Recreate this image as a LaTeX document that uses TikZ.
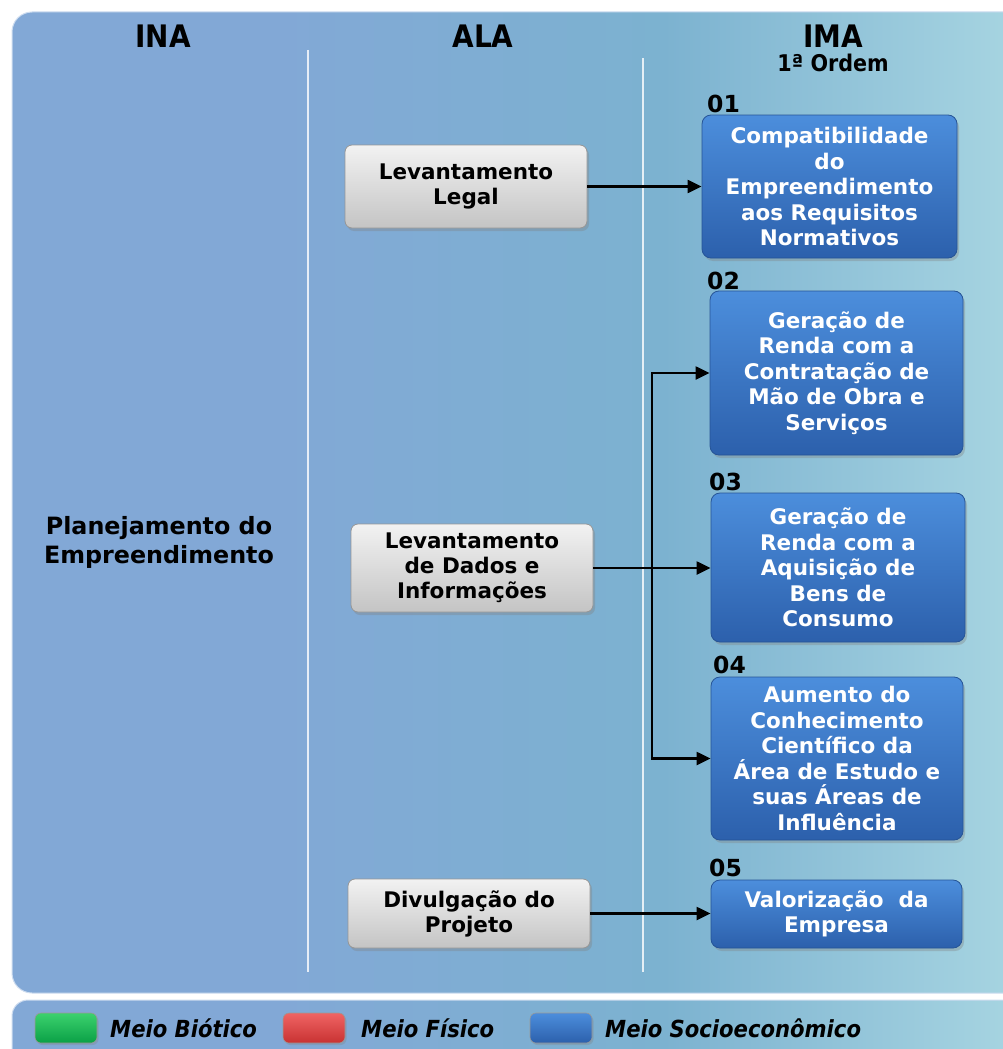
\documentclass[tikz,border=0pt]{standalone}
\usepackage{fontspec}
\setmainfont{DejaVu Sans}
\newfontfamily\condfont{DejaVu Sans Condensed}
\usetikzlibrary{arrows.meta,shadows}

\definecolor{panelL}{RGB}{130,168,214}
\definecolor{panelM}{RGB}{124,178,208}
\definecolor{panelR}{RGB}{166,212,225}
\definecolor{blueT}{RGB}{76,142,220}
\definecolor{blueB}{RGB}{44,96,172}
\definecolor{blueD}{RGB}{38,84,150}
\definecolor{grayT}{RGB}{242,242,242}
\definecolor{grayB}{RGB}{196,196,196}
\definecolor{grayD}{RGB}{150,150,150}
\definecolor{greenT}{RGB}{60,210,110}
\definecolor{greenB}{RGB}{10,160,70}
\definecolor{redT}{RGB}{240,100,100}
\definecolor{redB}{RGB}{200,50,50}

% left-to-right background: flat blue under INA, fading to pale teal on the right
\pgfdeclarehorizontalshading{panelshade}{100bp}{%
  color(0bp)=(panelL); color(38bp)=(panelL); color(57bp)=(panelM); color(74bp)=(panelR); color(100bp)=(panelR)}

\tikzset{
  x=1pt, y=-1pt,
  graybox/.style={draw=grayD, line width=0.8pt, rounded corners=7pt,
    top color=grayT, bottom color=grayB, align=center, text=black,
    font=\fontsize{21.5}{25}\selectfont\bfseries, inner sep=0pt,
    drop shadow={opacity=0.35, shadow xshift=2pt, shadow yshift=-3pt}},
  bluebox/.style={draw=blueD, line width=0.8pt, rounded corners=9pt,
    top color=blueT, bottom color=blueB, align=center, text=white,
    font=\fontsize{21.5}{25.5}\selectfont\bfseries, inner sep=0pt,
    drop shadow={opacity=0.35, shadow xshift=2pt, shadow yshift=-3pt}},
  numlabel/.style={font=\fontsize{23.5}{23.5}\selectfont\bfseries, anchor=base west, inner sep=0pt},
  heading/.style={font=\condfont\fontsize{31}{31}\selectfont\bfseries, inner sep=0pt},
  divider/.style={draw=white, line width=1.2pt, opacity=0.8},
  arr/.style={line width=2.2pt, -{Triangle[length=14pt,width=13pt]}},
  swatch/.style={rounded corners=6pt, draw=black!40, line width=0.6pt,
    minimum width=62, minimum height=30, inner sep=0pt,
    drop shadow={opacity=0.3, shadow xshift=1.5pt, shadow yshift=-2pt}},
  legtext/.style={font=\condfont\fontsize{23.5}{23.5}\selectfont\bfseries\itshape, anchor=west, inner sep=0pt}
}

\begin{document}
\begin{tikzpicture}
\useasboundingbox (0,0) rectangle (1003,1049);

% main panel and legend bar
\shade[shading=panelshade, draw=white!60!panelL, line width=1pt, rounded corners=20pt]
  (12,12) rectangle (1030,993);
\shade[shading=panelshade, draw=white!60!panelL, line width=1pt, rounded corners=16pt]
  (12,1000) rectangle (1030,1070);

% column dividers
\draw[divider] (308,50) -- (308,972);
\draw[divider] (643,58) -- (643,972);

% column headings
\node[heading] (hina) at (163,36) {INA};
\node[heading] (hala) at (483,36) {ALA};
\node[heading] (hima) at (833,36) {IMA};
\node[font=\condfont\fontsize{23}{23}\selectfont\bfseries, inner sep=0pt] (hord) at (833,63) {1ª Ordem};

% INA column
\node[font=\fontsize{23.8}{29}\selectfont\bfseries, align=center] (plan) at (159,542)
  {Planejamento do\\Empreendimento};

% ALA column
\node[graybox, minimum width=242, minimum height=83] (ll) at (466,186.5) {Levantamento\\Legal};
\node[graybox, minimum width=242, minimum height=88] (ldi) at (472,568) {Levantamento\\de Dados e\\Informações};
\node[graybox, minimum width=242, minimum height=69] (div) at (469,913.5) {Divulgação do\\Projeto};

% IMA column
\node[bluebox, minimum width=255, minimum height=143] (b1) at (829.5,186.5)
  {Compatibilidade\\do\\Empreendimento\\aos Requisitos\\Normativos};
\node[bluebox, minimum width=253, minimum height=164] (b2) at (836.5,373)
  {Geração de\\Renda com a\\Contratação de\\Mão de Obra e\\Serviços};
\node[bluebox, minimum width=254, minimum height=149] (b3) at (838,567.5)
  {Geração de\\Renda com a\\Aquisição de\\Bens de\\Consumo};
\node[bluebox, minimum width=252, minimum height=163] (b4) at (837,758.5)
  {Aumento do\\Conhecimento\\Científico da\\Área de Estudo e\\suas Áreas de\\Influência};
\node[bluebox, minimum width=251, minimum height=68] (b5) at (836.5,914)
  {Valorização~ da\\Empresa};

\node[numlabel] (n1) at (707,112) {01};
\node[numlabel] (n2) at (707,289) {02};
\node[numlabel] (n3) at (709,490) {03};
\node[numlabel] (n4) at (713,673) {04};
\node[numlabel] (n5) at (709,876) {05};

% connectors
\coordinate (jx) at (652,0);
\draw[arr] (ll.east) -- (ll.east -| b1.west);
\draw[arr] (ldi.east) -- (ldi.east -| b3.west);
\draw[arr] (jx |- ldi.east) |- (b2.west);
\draw[arr] (jx |- ldi.east) |- (b4.west);
\draw[arr] (div.east) -- (div.east -| b5.west);

% legend
\node[swatch, top color=greenT, bottom color=greenB] (sg) at (66,1028) {};
\node[legtext] (lg) at (110,1028) {Meio Biótico};
\node[swatch, top color=redT, bottom color=redB] (sr) at (314,1028) {};
\node[legtext] (lr) at (361,1028) {Meio Físico};
\node[swatch, top color=blueT, bottom color=blueB] (sb) at (561,1028) {};
\node[legtext] (lb) at (605,1028) {Meio Socioeconômico};
\end{tikzpicture}
\end{document}
